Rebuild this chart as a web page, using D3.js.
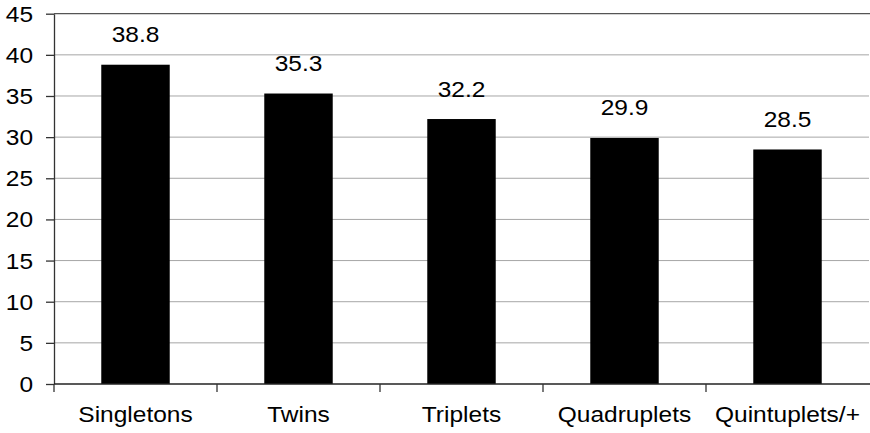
<!DOCTYPE html>
<html><head><meta charset="utf-8">
<script src="https://cdn.jsdelivr.net/npm/d3@7"></script>
<style>body{margin:0;background:#fff}svg{display:block}text{font-family:"Liberation Sans",Arial,Helvetica,sans-serif}</style>
</head><body>
<svg id="c" width="870" height="433"></svg>
<script>
const categories = ["Singletons","Twins","Triplets","Quadruplets","Quintuplets/+"];
const values = [38.8,35.3,32.2,29.9,28.5];
const yTicks = [0,5,10,15,20,25,30,35,40,45];

const svg = d3.select("#c");
const L = 54, R = 869, T = 13.7, B = 384;
const FS = 21.3, SX = 1.15;
const x = d3.scaleBand().domain(categories).range([L,R]).paddingInner(0.58).paddingOuter(0.29);
const xb = d3.scaleBand().domain(categories).range([L,R]);
const y = d3.scaleLinear().domain([0,45]).range([B,T]);

// gridlines
svg.append("g").selectAll("line").data(yTicks.filter(d=>d>0 && d<45)).join("line")
  .attr("x1",L).attr("x2",R).attr("y1",d=>y(d)).attr("y2",d=>y(d))
  .attr("stroke","#a6a6a6").attr("stroke-width",1);
// top line
svg.append("line").attr("x1",L).attr("x2",870).attr("y1",y(45)).attr("y2",y(45))
  .attr("stroke","#555").attr("stroke-width",1.3);

// bars
svg.append("g").selectAll("rect").data(values).join("rect")
  .attr("x",(d,i)=>x(categories[i])).attr("width",x.bandwidth())
  .attr("y",d=>y(d)).attr("height",d=>B-y(d)).attr("fill","#000");

// value labels
svg.append("g").selectAll("text").data(values).join("text")
  .attr("transform",(d,i)=>`translate(${x(categories[i])+x.bandwidth()/2},${y(d)-22.5}) scale(${SX},1)`)
  .attr("text-anchor","middle").attr("font-size",FS).attr("fill","#000")
  .text(d=>d.toFixed(1));

// y axis
const ya = svg.append("g").attr("transform",`translate(${L},0)`)
  .call(d3.axisLeft(y).tickValues(yTicks).tickSize(8).tickSizeOuter(0));
ya.select(".domain").attr("stroke","#333").attr("stroke-width",1.3);
ya.selectAll(".tick line").attr("stroke","#333").attr("stroke-width",1.3);
ya.selectAll("text").attr("x",null).attr("dy",null)
  .attr("transform",`translate(-21,7.5) scale(${SX},1)`)
  .attr("font-size",FS).attr("fill","#000").attr("font-family","Liberation Sans, Arial, sans-serif");

// x axis
svg.append("line").attr("x1",L).attr("x2",870).attr("y1",B).attr("y2",B).attr("stroke","#222").attr("stroke-width",1.5);
const bounds = categories.map(c=>xb(c)).slice(1);
svg.append("g").selectAll("line").data([L].concat(bounds)).join("line")
  .attr("x1",d=>d).attr("x2",d=>d).attr("y1",B).attr("y2",B+8).attr("stroke","#333").attr("stroke-width",1.3);
svg.append("g").selectAll("text").data(categories).join("text")
  .attr("transform",d=>`translate(${xb(d)+xb.bandwidth()/2},422) scale(${SX},1)`)
  .attr("text-anchor","middle").attr("font-size",FS).attr("fill","#000").text(d=>d);
</script>
</body></html>
